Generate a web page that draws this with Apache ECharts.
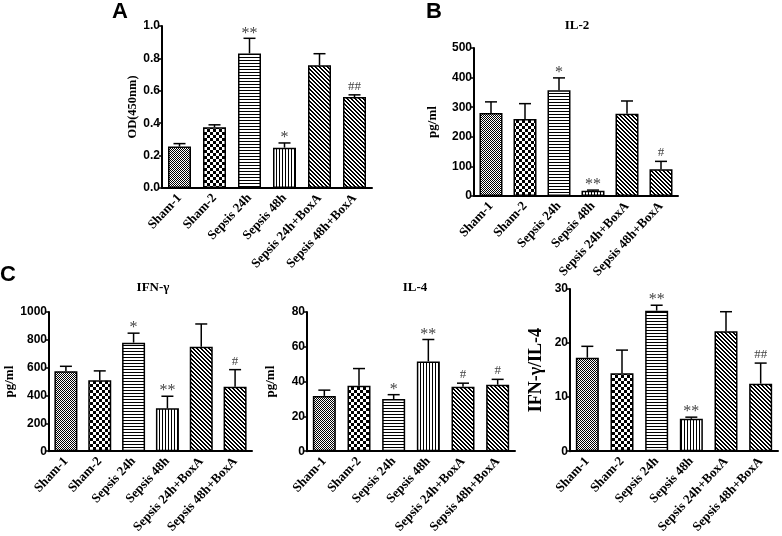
<!DOCTYPE html>
<html>
<head>
<meta charset="utf-8">
<script src="https://cdn.jsdelivr.net/npm/echarts@6/dist/echarts.min.js"></script>
<style>
html,body{margin:0;padding:0;background:#fff;}
#chart{width:782px;height:536px;}
</style>
</head>
<body>
<div id="chart"></div>
<script>
// ---- data ----
const categories = ['Sham-1', 'Sham-2', 'Sepsis 24h', 'Sepsis 48h', 'Sepsis 24h+BoxA', 'Sepsis 48h+BoxA'];

const odMean = [0.256, 0.375, 0.831, 0.249, 0.757, 0.561];
const odSem  = [0.018, 0.015, 0.093, 0.029, 0.072, 0.014];
const odSig  = ['', '', '**', '*', '', '##'];

const il2Mean = [280, 260, 357, 18, 278, 90];
const il2Sem  = [38, 52, 42, 2, 43, 27];
const il2Sig  = ['', '', '*', '**', '', '#'];

const ifnMean = [575, 509, 780, 308, 751, 464];
const ifnSem  = [35, 68, 68, 87, 163, 122];
const ifnSig  = ['', '', '*', '**', '', '#'];

const il4Mean = [31.8, 37.6, 30.0, 51.6, 37.1, 38.2];
const il4Sem  = [3.3, 9.9, 2.5, 12.6, 2.0, 3.1];
const il4Sig  = ['', '', '*', '**', '#', '#'];

const ratioMean = [17.3, 14.4, 26.0, 6.0, 22.2, 12.5];
const ratioSem  = [2.1, 4.3, 1.0, 0.3, 3.6, 3.8];
const ratioSig  = ['', '', '**', '**', '', '##'];

// ---- fill patterns ----
function makePattern(w, h, fn) {
  const c = document.createElement('canvas');
  c.width = w; c.height = h;
  const ctx = c.getContext('2d');
  ctx.fillStyle = '#fff';
  ctx.fillRect(0, 0, w, h);
  ctx.fillStyle = '#000';
  for (let y = 0; y < h; y++) for (let x = 0; x < w; x++) if (fn(x, y)) ctx.fillRect(x, y, 1, 1);
  return { image: c, repeat: 'repeat' };
}
const patterns = [
  makePattern(2, 2, (x, y) => (x + y) % 2 === 0),
  makePattern(6, 6, (x, y) => (Math.floor(x / 3) + Math.floor(y / 3)) % 2 === 0),
  makePattern(1, 3, (x, y) => y === 0),
  makePattern(3, 1, (x, y) => x === 0),
  makePattern(4, 4, (x, y) => ((x - y + 4) % 4) < 2),
  makePattern(4, 4, (x, y) => ((x - y + 4) % 4) < 2)
];

const serif = 'Liberation Serif';
const sans = 'Liberation Sans';

const panels = [
  { mean: odMean, sem: odSem, sig: odSig, max: 1.0, interval: 0.2, dec: 1,
    grid: { left: 162, top: 26, width: 210, height: 162 }, name: 'OD(450nm)', nameGap: 21, nameSize: 12.5 },
  { mean: il2Mean, sem: il2Sem, sig: il2Sig, max: 500, interval: 100, dec: 0,
    grid: { left: 474, top: 48, width: 204, height: 148 }, name: 'pg/ml', nameGap: 35, nameSize: 13 },
  { mean: ifnMean, sem: ifnSem, sig: ifnSig, max: 1000, interval: 200, dec: 0,
    grid: { left: 49, top: 312, width: 203, height: 147 }, name: 'pg/ml', nameGap: 32, nameSize: 13 },
  { mean: il4Mean, sem: il4Sem, sig: il4Sig, max: 80, interval: 20, dec: 0,
    grid: { left: 307, top: 312, width: 208, height: 146.5 }, name: 'pg/ml', nameGap: 30, nameSize: 13 },
  { mean: ratioMean, sem: ratioSem, sig: ratioSig, max: 30, interval: 10, dec: 0,
    grid: { left: 570, top: 289, width: 208, height: 163 }, name: 'IFN-γ/IL-4', nameGap: 25, nameSize: 18 }
];

const grids = [], xAxes = [], yAxes = [], series = [];
panels.forEach((p, k) => {
  grids.push(p.grid);
  xAxes.push({
    type: 'category', gridIndex: k, data: categories,
    axisLine: { lineStyle: { color: '#000', width: 2 } },
    axisTick: { show: false },
    axisLabel: { interval: 0, rotate: 47, margin: 8, color: '#000',
      fontFamily: serif, fontWeight: 'bold', fontSize: 13 }
  });
  yAxes.push({
    type: 'value', gridIndex: k, min: 0, max: p.max, interval: p.interval,
    name: p.name, nameLocation: 'middle', nameRotate: 90, nameGap: p.nameGap,
    nameTextStyle: { fontFamily: serif, fontWeight: 'bold', fontSize: p.nameSize, color: '#000' },
    axisLine: { show: true, lineStyle: { color: '#000', width: 2 } },
    axisTick: { show: true, length: 3, lineStyle: { color: '#000', width: 1.5 } },
    axisLabel: { margin: 2, color: '#000', fontFamily: sans, fontWeight: 'bold', fontSize: 12,
      formatter: v => v.toFixed(p.dec) },
    splitLine: { show: false }
  });
  series.push({
    type: 'bar', xAxisIndex: k, yAxisIndex: k, barWidth: 23,
    data: p.mean.map((v, i) => ({ value: v, itemStyle: { color: patterns[i], borderColor: '#000', borderWidth: 1.5 } })),
    animation: false, z: 2
  });
  series.push({
    type: 'custom', xAxisIndex: k, yAxisIndex: k, animation: false, z: 3,
    data: p.mean.map((v, i) => [i, v, v + p.sem[i]]),
    renderItem: function (params, api) {
      const i = api.value(0);
      const p0 = api.coord([i, api.value(1)]);
      const p1 = api.coord([i, api.value(2)]);
      const half = 6;
      const children = [
        { type: 'line', shape: { x1: p0[0], y1: p0[1], x2: p1[0], y2: p1[1] }, style: { stroke: '#000', lineWidth: 1.5 } },
        { type: 'line', shape: { x1: p1[0] - half, y1: p1[1], x2: p1[0] + half, y2: p1[1] }, style: { stroke: '#000', lineWidth: 1.5 } }
      ];
      const s = p.sig[params.dataIndex];
      if (s) {
        const isStar = s.indexOf('*') >= 0;
        children.push({ type: 'text', style: { text: s, x: p1[0], y: p1[1] - (isStar ? -3 : 2),
          align: 'center', verticalAlign: 'bottom', fill: '#444',
          font: (isStar ? '16px ' : '13px ') + serif } });
      }
      return { type: 'group', children: children };
    }
  });
});

const chart = echarts.init(document.getElementById('chart'), null, { renderer: 'canvas' });
chart.setOption({
  backgroundColor: '#fff',
  animation: false,
  grid: grids, xAxis: xAxes, yAxis: yAxes, series: series,
  graphic: [
    { type: 'text', left: 112, top: 1, style: { text: 'A', font: 'bold 22px ' + sans, fill: '#000' } },
    { type: 'text', left: 426, top: 1, style: { text: 'B', font: 'bold 22px ' + sans, fill: '#000' } },
    { type: 'text', left: 0, top: 264, style: { text: 'C', font: 'bold 22px ' + sans, fill: '#000' } },
    { type: 'text', x: 577, y: 26, style: { text: 'IL-2', font: 'bold 13px ' + serif, fill: '#000', align: 'center', verticalAlign: 'middle' } },
    { type: 'text', x: 153, y: 288, style: { text: 'IFN-γ', font: 'bold 13px ' + serif, fill: '#000', align: 'center', verticalAlign: 'middle' } },
    { type: 'text', x: 415, y: 288, style: { text: 'IL-4', font: 'bold 13px ' + serif, fill: '#000', align: 'center', verticalAlign: 'middle' } }
  ]
});
</script>
</body>
</html>
